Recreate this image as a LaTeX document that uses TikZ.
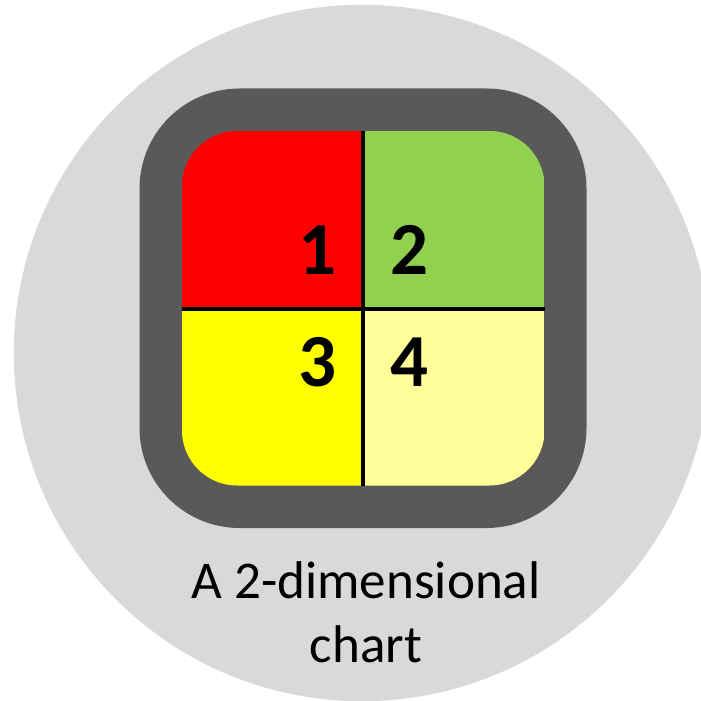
\documentclass[tikz,border=0pt]{standalone}
\usepackage{fontspec}
\setmainfont{Carlito}
\definecolor{DiscGray}{HTML}{D9D9D9}
\definecolor{FrameGray}{HTML}{595959}
\definecolor{CellRed}{HTML}{FF0000}
\definecolor{CellGreen}{HTML}{92D050}
\definecolor{CellYellow}{HTML}{FFFF00}
\definecolor{CellPale}{HTML}{FFFF99}
\begin{document}
\begin{tikzpicture}[x=0.01cm, y=-0.01cm, every node/.style={inner sep=0pt}]
  \tikzstyle{digit}=[font=\fontsize{21.3}{24}\selectfont\bfseries]
  \tikzstyle{divider}=[line width=1.1pt, black]
  \useasboundingbox (0,0) rectangle (701,701);
  \clip (0,0) rectangle (701,701);
  \fill[DiscGray] (362,353) circle[radius=3.48cm];
  \fill[FrameGray, rounded corners=1cm] (139.5,88.5) rectangle (586.5,528);
  \begin{scope}
    \clip[rounded corners=0.55cm] (182,131) rectangle (544.5,485.5);
    \fill[CellRed] (182,131) rectangle (363,309);
    \fill[CellGreen] (363,131) rectangle (544.5,309);
    \fill[CellYellow] (182,309) rectangle (363,485.5);
    \fill[CellPale] (363,309) rectangle (544.5,485.5);
  \end{scope}
  \coordinate (top) at (363,131);
  \coordinate (bottom) at (363,485.5);
  \coordinate (left) at (182,309);
  \coordinate (right) at (544.5,309);
  \draw[divider] (top) -- (bottom);
  \draw[divider] (left) -- (right);
  \node[digit, anchor=base east] (one) at (337,275) {1};
  \node[digit, anchor=base west] (two) at (390,275) {2};
  \node[digit, anchor=base east] (three) at (337,387) {3};
  \node[digit, anchor=base west] (four) at (390,387) {4};
  \node[anchor=base, align=center, font=\fontsize{15.1}{18.2}\selectfont] (caption) at (366,662) {A 2-dimensional\\chart};
\end{tikzpicture}
\end{document}
